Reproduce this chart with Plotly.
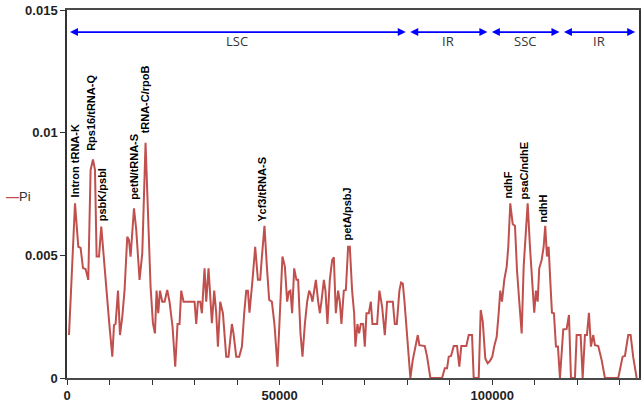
import plotly.graph_objects as go

# ---------------- data ----------------
positions = [470, 1880, 2660, 3200, 3760, 4370, 5000, 5550, 6110, 6580, 6960, 7520, 8060, 8700,
             9310, 9870, 10650, 11050, 11420, 11990, 12460, 13000, 13540, 14170, 14570, 14950,
             15750, 16290, 17060, 17700, 18470, 19110, 19650, 20210, 20680, 21060, 21460, 21860,
             22400, 22940, 23570, 24110, 24820, 25450, 25990, 26460, 26860, 27400, 28700, 29990,
             30390, 30780, 31320, 31720, 32340, 32740, 33280, 33680, 34070, 34620, 35090, 35490,
             36030, 36660, 37440, 37980, 38770, 39150, 39790, 40490, 41130, 41670, 42140, 42540,
             42910, 43620, 44250, 44890, 45430, 45820, 46430, 47000, 47540, 48170, 48780, 49490,
             50660, 51230, 51770, 52170, 52540, 52940, 53420, 53950, 54350, 54900, 55370, 55930,
             56470, 56940, 57340, 57720, 58050, 58520, 59060, 59460, 59830, 60400, 60770, 61240,
             61800, 62350, 62740, 63210, 63750, 64150, 64530, 65090, 65570, 66100, 66500, 67040,
             67520, 67820, 68290, 68690, 69090, 69630, 70030, 70410, 70970, 71440, 71820, 72370,
             72920, 73460, 74100, 74730, 75270, 76610, 77080, 77550, 78160, 78550, 78960, 79330,
             79970, 80740, 81300, 81920, 82480, 82860, 84130, 84670, 85440, 88190, 88830, 89370,
             89760, 90300, 90940, 91710, 92250, 92720, 93900, 94460, 95240, 95630, 96810, 97280,
             97760, 98360, 98920, 99460, 100000, 100470, 101040, 101500, 101880, 102280, 102820,
             103390, 103760, 104230, 104800, 105340, 105810, 106350, 106910, 107380, 107920,
             108320, 108860, 109330, 109870, 110270, 110670, 111040, 111610, 112080, 112450,
             112860, 113250, 113630, 114030, 114500, 114970, 115440, 115910, 116690, 117490,
             118030, 118500, 119440, 119840, 120780, 121250, 121790, 122260, 122730, 123200,
             123740, 124140, 124920, 125720, 126490, 129620, 130650, 131190, 131970, 132530,
             133150, 133950]

pi_values = [0.00175, 0.00712, 0.00535, 0.0053, 0.00448, 0.00444, 0.0040, 0.00848, 0.00891, 0.00848,
             0.00495, 0.00495, 0.00617, 0.00469, 0.00346, 0.00236, 0.00087, 0.00216, 0.0022, 0.00356,
             0.00175, 0.0025, 0.00359, 0.00576, 0.00562, 0.00495, 0.00692, 0.00603, 0.0040, 0.00508,
             0.00959, 0.0067, 0.00372, 0.00223, 0.00182, 0.00356, 0.00264, 0.00356, 0.00311, 0.00311,
             0.00359, 0.00311, 0.00209, 0.00046, 0.0022, 0.0022, 0.00356, 0.00311, 0.00311, 0.00311,
             0.0022, 0.00311, 0.00311, 0.00264, 0.00447, 0.00311, 0.00447, 0.00311, 0.00223, 0.00356,
             0.00264, 0.00128, 0.00311, 0.00264, 0.00087, 0.00087, 0.0022, 0.00182, 0.00087, 0.00087,
             0.00128, 0.00264, 0.00356, 0.00356, 0.00266, 0.0040, 0.00535, 0.0040, 0.0040, 0.00492,
             0.0062, 0.00454, 0.00318, 0.00311, 0.0022, 0.00046, 0.00495, 0.00454, 0.00311, 0.00352,
             0.00356, 0.00264, 0.00447, 0.0040, 0.0040, 0.00182, 0.00087, 0.0022, 0.00311, 0.00356,
             0.0034, 0.00311, 0.00356, 0.0040, 0.00311, 0.00264, 0.00311, 0.0040, 0.00356, 0.0022,
             0.0040, 0.00481, 0.00492, 0.00264, 0.00356, 0.00311, 0.0022, 0.00356, 0.00359, 0.00535,
             0.00535, 0.00356, 0.00264, 0.00128, 0.0022, 0.00182, 0.0022, 0.0022, 0.00128, 0.00264,
             0.00264, 0.00311, 0.0022, 0.0022, 0.0022, 0.00356, 0.0029, 0.00175, 0.00311, 0.00311,
             0.0022, 0.0022, 0.00356, 0.00389, 0.00385, 0.00318, 0.00168, 0.0, 0.00073, 0.00128,
             0.00175, 0.00134, 0.0013, 0.00087, 0.0, 0.0, 0.0004, 0.0004, 0.00087, 0.0009, 0.0013,
             0.0013, 0.00046, 0.0013, 0.0013, 0.00175, 0.00175, 0.0, 0.0, 0.00277, 0.0023, 0.0008,
             0.0006, 0.0007, 0.00087, 0.0013, 0.00168, 0.00264, 0.00356, 0.00311, 0.0040, 0.00454,
             0.00535, 0.00712, 0.00628, 0.0062, 0.0044, 0.00311, 0.00182, 0.00454, 0.0062, 0.00712,
             0.00535, 0.0040, 0.00266, 0.00356, 0.00311, 0.00447, 0.00481, 0.00535, 0.0062, 0.00495,
             0.00535, 0.0040, 0.00266, 0.00264, 0.00128, 0.00128, 0.0, 0.00198, 0.002, 0.00257, 0.0,
             0.0, 0.00175, 0.00175, 0.0, 0.00175, 0.00175, 0.00266, 0.00128, 0.00175, 0.00134, 0.0013,
             0.00073, 0.0, 0.0, 0.00087, 0.0009, 0.00175, 0.00175, 0.00084, 0.0]

# peak annotations
peak_labels = ["Intron tRNA-K", "Rps16/tRNA-Q", "psbK/psbI", "petN/tRNA-S", "tRNA-C/rpoB",
               "Ycf3/tRNA-S", "petA/psbJ", "ndhF", "psaC/ndhE", "ndhH"]
peak_x = [1880, 5780, 8300, 15580, 18400, 45820, 65940, 103770, 107530, 111850]
peak_y = [0.00726, 0.00916, 0.0063, 0.00719, 0.0099, 0.0063, 0.00552, 0.00723, 0.00719, 0.00624]

# genome regions
region_names = ["LSC", "IR", "SSC", "IR"]
region_start = [0, 80000, 99200, 116150]
region_end = [80000, 99200, 116150, 133950]
region_arrow_y = 0.0141
region_label_y = 0.01372

y_ticks = [0, 0.005, 0.01, 0.015]
y_tick_text = ["0", "0.005", "0.01", "0.015"]
x_ticks = [0, 50000, 100000]
x_tick_text = ["0", "50000", "100000"]

LINE_COLOR = "#C0504D"
AXIS_FONT = dict(family="Liberation Sans, Arial", size=13, color="#1f1f1f")

fig = go.Figure()
fig.add_trace(go.Scatter(
    x=positions, y=pi_values, mode="lines", name="Pi",
    line=dict(color=LINE_COLOR, width=2), showlegend=False, hoverinfo="skip",
))

annotations = []
for lab, px, py in zip(peak_labels, peak_x, peak_y):
    annotations.append(dict(
        x=px, y=py, xref="x", yref="y", text="<b>%s</b>" % lab, showarrow=False,
        textangle=-90, xanchor="center", yanchor="bottom",
        font=dict(family="Liberation Sans, Arial", size=11, color="#000000"),
    ))

for name, s, e in zip(region_names, region_start, region_end):
    annotations.append(dict(
        x=e, y=region_arrow_y, ax=s, ay=region_arrow_y, xref="x", yref="y",
        axref="x", ayref="y", text="", showarrow=True, arrowside="end+start",
        arrowhead=2, startarrowhead=2, arrowsize=1, startarrowsize=1, arrowwidth=1.6,
        arrowcolor="#0000FF", standoff=1.5, startstandoff=1.5,
    ))
    annotations.append(dict(
        x=(s + e) / 2, y=region_label_y, xref="x", yref="y", text=name, showarrow=False,
        xanchor="center", yanchor="middle",
        font=dict(family="Open Sans", size=13, color="#333333"),
    ))

# legend
annotations.append(dict(
    x=-0.11, y=0.492, xref="paper", yref="paper", xanchor="left", yanchor="middle",
    text="<span style='color:%s'><b>—</b></span>Pi" % LINE_COLOR, showarrow=False,
    font=dict(family="Liberation Sans, Arial", size=13, color="#333333"),
))

fig.update_layout(
    width=644, height=404, autosize=False,
    margin=dict(l=67, r=5, t=10, b=26, autoexpand=False),
    paper_bgcolor="white", plot_bgcolor="white",
    annotations=annotations,
    xaxis=dict(
        range=[0, 134500], showgrid=False, zeroline=False, automargin=False,
        showline=True, linecolor="#4a4a4a", linewidth=1.5, mirror=True,
        tickvals=x_ticks, ticktext=x_tick_text, ticks="outside", ticklen=5,
        tickcolor="#333333", tickwidth=1,
        minor=dict(dtick=10000, tick0=0, ticks="outside", ticklen=5, tickcolor="#333333",
                   tickwidth=1, showgrid=False),
        tickfont=dict(AXIS_FONT, weight="bold"), layer="below traces",
    ),
    yaxis=dict(
        range=[0, 0.015], showgrid=False, zeroline=False, automargin=False,
        showline=True, linecolor="#333333", linewidth=1.5, mirror=True,
        tickvals=y_ticks, ticktext=y_tick_text, ticks="outside", ticklen=5,
        tickcolor="#333333", tickwidth=1,
        tickfont=dict(AXIS_FONT, weight="bold"), layer="below traces",
    ),
)

fig.write_html(
    "out.html",
    config={"displayModeBar": False},
    post_script="document.body.style.margin='0';document.body.style.padding='0';",
)
